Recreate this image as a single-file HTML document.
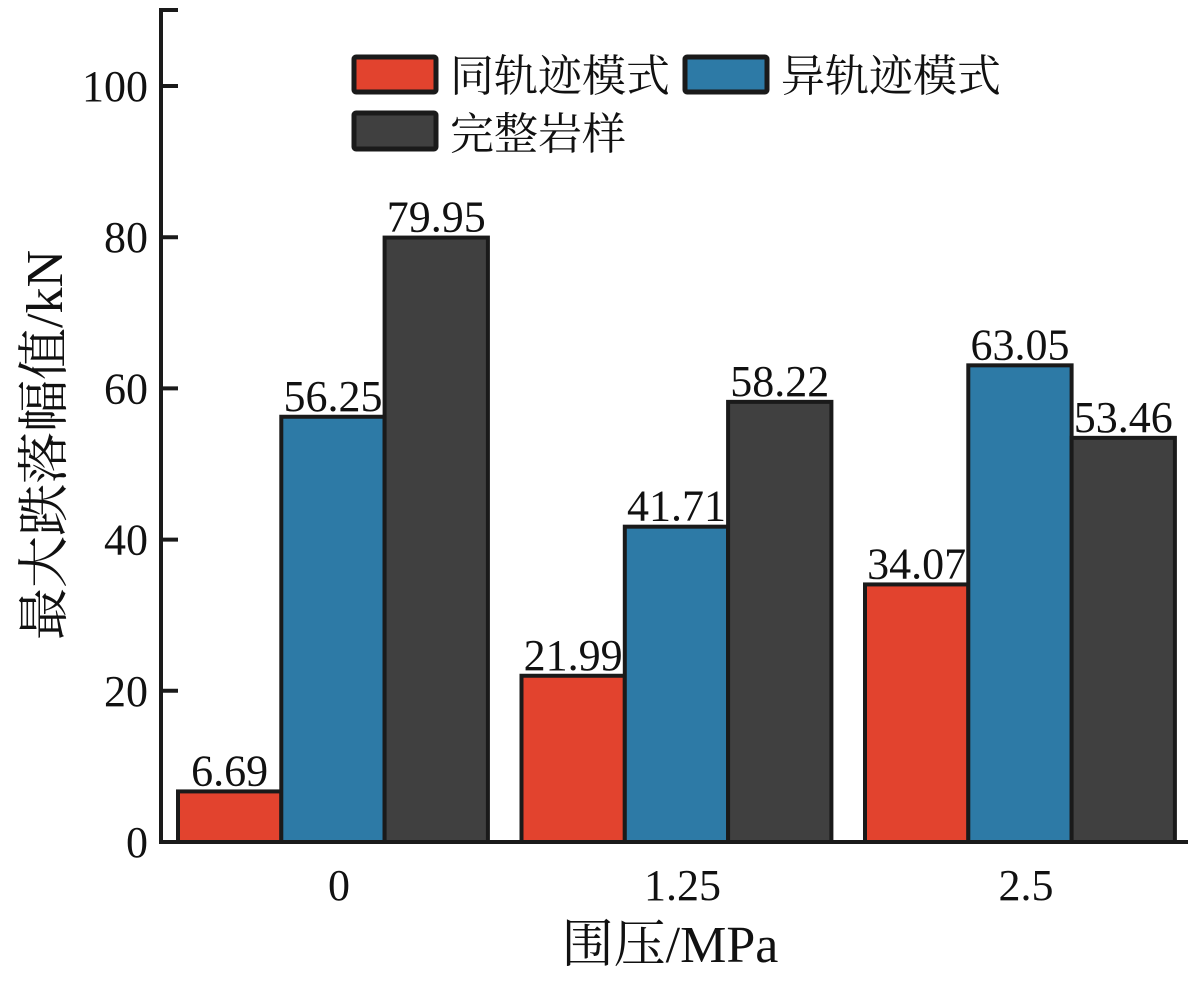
<!DOCTYPE html>
<html><head><meta charset="utf-8"><style>
body{margin:0;background:#fff}
svg text{font-family:"Liberation Serif","Noto Serif CJK SC",serif;fill:#111}
</style></head><body>
<svg id="chart" width="1203" height="981">
<g id="marks"></g>
<g id="axes"></g>
<g>
<rect x="354" y="57" width="82" height="35" fill="#e2432e" stroke="#1a1a1a" stroke-width="5" rx="2"/>
<text x="450" y="91" font-size="44">同轨迹模式</text>
<rect x="685" y="57" width="82" height="35" fill="#2d7aa6" stroke="#1a1a1a" stroke-width="5" rx="2"/>
<text x="781" y="91" font-size="44">异轨迹模式</text>
<rect x="354" y="113" width="82" height="36" fill="#404040" stroke="#1a1a1a" stroke-width="5" rx="2"/>
<text x="450" y="149" font-size="44">完整岩样</text>
</g>
<text x="670" y="962" font-size="52" text-anchor="middle">围压/MPa</text>
<text transform="translate(62,445) rotate(-90)" font-size="52" text-anchor="middle">最大跌落幅值/kN</text>
</svg>
<script>
const categories=["0","1.25","2.5"];
const seriesSame=[6.69,21.99,34.07];
const seriesDiff=[56.25,41.71,63.05];
const seriesIntact=[79.95,58.22,53.46];
const yTicks=[0,20,40,60,80,100];
const NS="http://www.w3.org/2000/svg";
const y0=842,pxPerUnit=7.56;
function yScale(v){return y0-v*pxPerUnit;}
const groupStart=178,groupStep=343.5,barW=103.3;
function xScale(i,s){return groupStart+i*groupStep+s*barW;}
function mk(tag,attrs,parent){const e=document.createElementNS(NS,tag);for(const k in attrs)e.setAttribute(k,attrs[k]);parent.appendChild(e);return e;}
const marks=document.getElementById('marks'),axes=document.getElementById('axes');
const series=[[seriesSame,"#e2432e","same"],[seriesDiff,"#2d7aa6","diff"],[seriesIntact,"#404040","intact"]];
categories.forEach((c,i)=>{
 series.forEach(([vals,col,nm],s)=>{
  const x=xScale(i,s),y=yScale(vals[i]);
  const r=mk('rect',{x:x,y:y,width:barW,height:y0-y,fill:col,stroke:"#1a1a1a","stroke-width":4},marks);
  
  
  const t=mk('text',{x:x+barW/2,y:y-6,"font-size":44,"text-anchor":"middle"},marks);
  t.textContent=vals[i].toFixed(2);
  
  
 });
 const xt=mk('text',{x:xScale(i,1.5)+6,y:900,"font-size":44,"text-anchor":"middle"},axes);
 xt.textContent=c;
 
 
});
const ya=mk('path',{d:"M178 10 H161 V842 H1188",fill:"none",stroke:"#1a1a1a","stroke-width":4},axes);


yTicks.forEach(v=>{
 const y=yScale(v);
 const tk=mk('line',{x1:161,x2:178,y1:y,y2:y,stroke:"#1a1a1a","stroke-width":4},axes);
 
 
 const tl=mk('text',{x:148,y:y+15,"font-size":44,"text-anchor":"end"},axes);
 tl.textContent=v;
 
 
});
</script>
</body></html>
